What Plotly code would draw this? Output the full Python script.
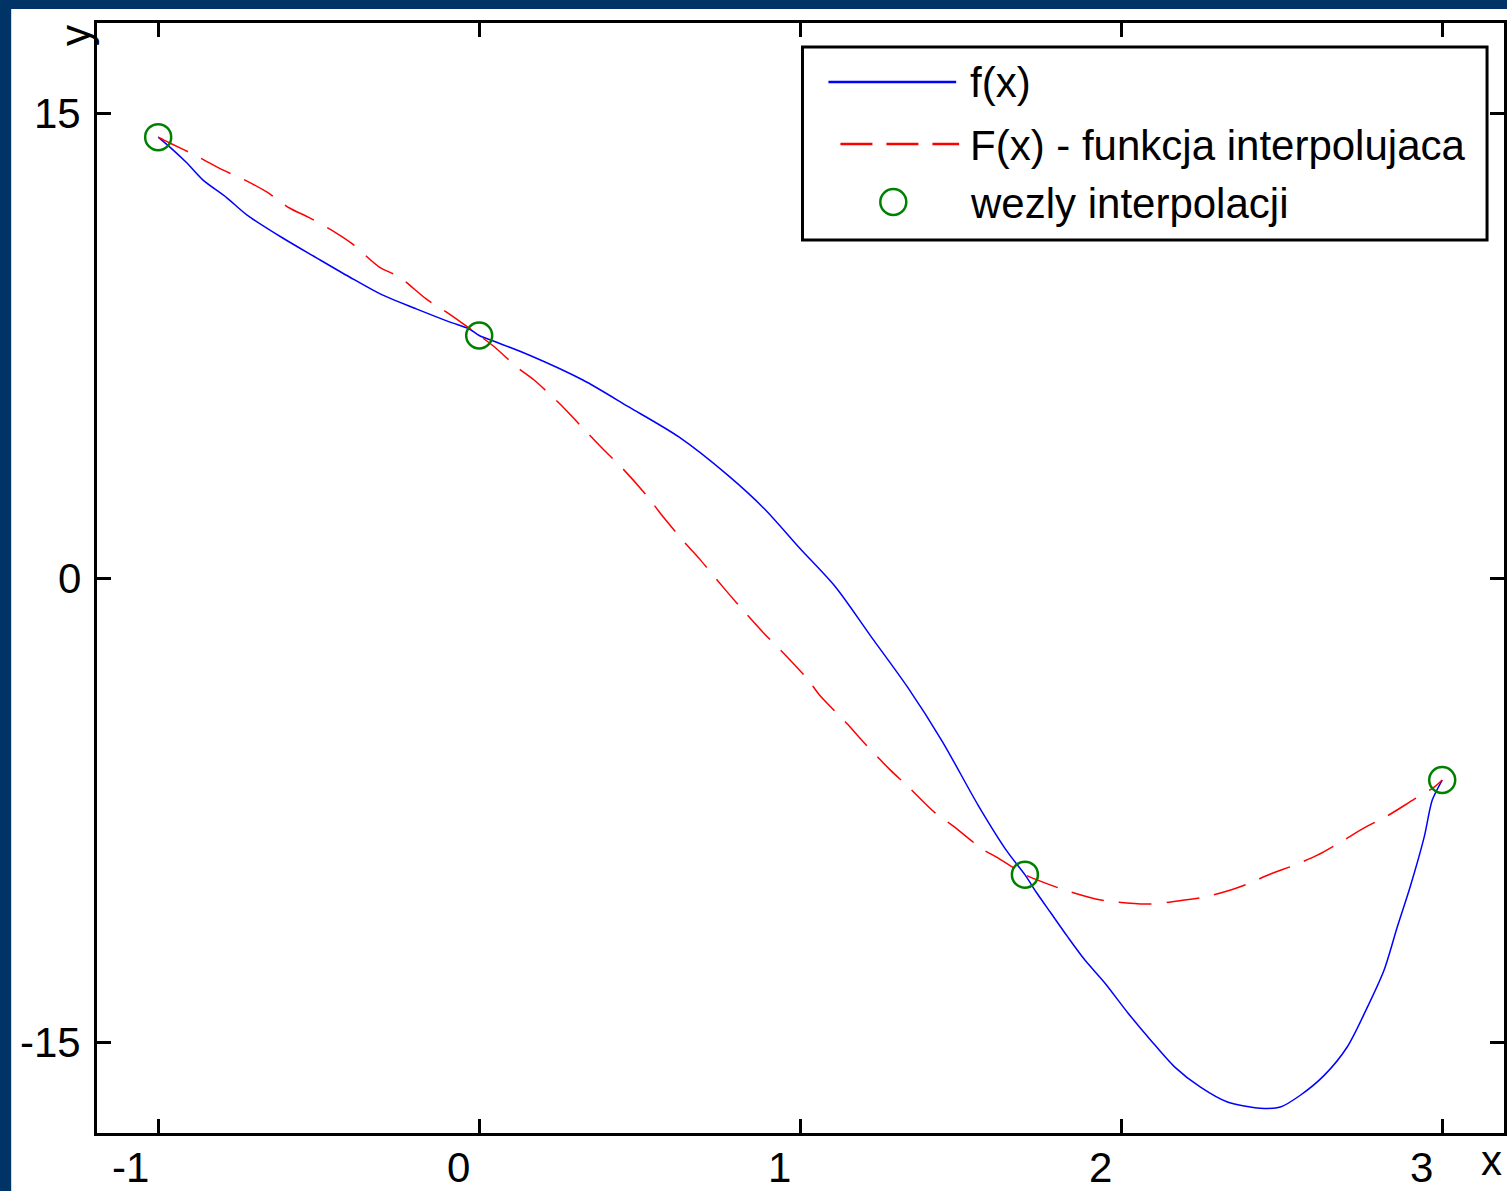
import plotly.graph_objects as go

# ---- data ----
f_x = [-1.0, -0.954, -0.911, -0.861, -0.786, -0.724, -0.612, -0.507, -0.404, -0.302,
       -0.196, -0.093, -0.031, 0.0, 0.044, 0.155, 0.323, 0.466, 0.622, 0.777,
       0.889, 0.998, 1.110, 1.222, 1.334, 1.442, 1.554, 1.644, 1.70, 1.735,
       1.781, 1.834, 1.887, 1.949, 2.021, 2.092, 2.167, 2.247, 2.331, 2.434,
       2.496, 2.558, 2.633, 2.704, 2.767, 2.819, 2.860, 2.900, 2.944, 2.969, 3.0]
f_y = [14.25, 13.84, 13.42, 12.87, 12.29, 11.74, 10.99, 10.35, 9.73, 9.15,
       8.70, 8.28, 8.05, 7.84, 7.66, 7.21, 6.40, 5.53, 4.56, 3.30,
       2.23, 0.97, -0.29, -1.91, -3.52, -5.27, -7.34, -8.83, -9.59, -10.15,
       -10.83, -11.61, -12.35, -13.09, -14.06, -14.94, -15.81, -16.46, -16.94, -17.14,
       -17.10, -16.72, -16.07, -15.16, -13.87, -12.67, -11.28, -9.99, -8.37, -7.18, -6.53]

F_x = [-1.0, -0.964, -0.880, -0.799, -0.737, -0.662, -0.591, -0.528, -0.445, -0.395,
       -0.311, -0.249, -0.165, -0.103, -0.053, 0.0, 0.044, 0.121, 0.171, 0.261,
       0.311, 0.395, 0.445, 0.528, 0.566, 0.644, 0.687, 0.765, 0.805, 0.889,
       0.939, 1.023, 1.060, 1.150, 1.194, 1.281, 1.334, 1.421, 1.477, 1.567,
       1.616, 1.666, 1.70, 1.756, 1.834, 1.937, 2.083, 2.198, 2.260, 2.331,
       2.394, 2.465, 2.540, 2.611, 2.683, 2.757, 2.829, 2.913, 2.975, 3.0]
F_y = [14.25, 14.06, 13.64, 13.19, 12.90, 12.48, 11.96, 11.64, 11.15, 10.80,
       10.05, 9.73, 9.02, 8.60, 8.24, 7.84, 7.50, 6.79, 6.40, 5.53,
       4.98, 4.07, 3.56, 2.59, 2.07, 1.10, 0.61, -0.36, -0.84, -1.81,
       -2.33, -3.27, -3.78, -4.75, -5.27, -6.21, -6.72, -7.60, -8.02, -8.76,
       -9.05, -9.38, -9.59, -9.83, -10.12, -10.41, -10.54, -10.41, -10.31, -10.12,
       -9.89, -9.57, -9.28, -8.96, -8.54, -8.08, -7.69, -7.15, -6.76, -6.53]

node_x = [-1.0, 0.0, 1.70, 3.0]
node_y = [14.25, 7.84, -9.59, -6.53]

x_ticks = [-1, 0, 1, 2, 3]
x_tick_labels = ["-1", "0", "1", "2", "3"]
y_ticks = [-15, 0, 15]
y_tick_labels = ["-15", "0", "15"]

legend_names = ["f(x)", "F(x) - funkcja interpolujaca", "wezly interpolacji"]

# ---- styling ----
FONT = "Liberation Sans, Arial, sans-serif"
FS = 42
NAVY = "#003366"
BLUE = "#0000FF"
RED = "#FF0000"
GREEN = "#008000"

W, H = 1507, 1191
ML, MR, MT, MB = 97, 0, 23, 58
PW, PH = W - ML - MR, H - MT - MB


def px(xp):
    return (xp - ML) / PW


def py(yp):
    return (H - MB - yp) / PH


fig = go.Figure()
fig.add_trace(go.Scatter(x=f_x, y=f_y, mode="lines", name=legend_names[0],
                         line=dict(color=BLUE, width=1.5, shape="spline", smoothing=0.8),
                         showlegend=False))
fig.add_trace(go.Scatter(x=F_x, y=F_y, mode="lines", name=legend_names[1],
                         line=dict(color=RED, width=1.5, dash="33px,15px",
                                   shape="spline", smoothing=0.8),
                         showlegend=False))
fig.add_trace(go.Scatter(x=node_x, y=node_y, mode="markers", name=legend_names[2],
                         marker=dict(symbol="circle-open", size=26, color=GREEN,
                                     line=dict(width=2.5, color=GREEN)),
                         showlegend=False))

shapes = [
    # white figure area inside the navy frame
    dict(type="rect", xref="paper", yref="paper", x0=px(11), x1=1.2, y0=-0.3, y1=py(9),
         fillcolor="white", line=dict(width=0), layer="below"),
    # legend box
    dict(type="rect", xref="paper", yref="paper", x0=px(804), x1=px(1490), y0=py(240), y1=py(47),
         fillcolor="white", line=dict(color="black", width=3)),
    dict(type="line", xref="paper", yref="paper", x0=px(830), x1=px(958), y0=py(82), y1=py(82),
         line=dict(color=BLUE, width=2.5)),
    dict(type="line", xref="paper", yref="paper", x0=px(842), x1=px(961), y0=py(144), y1=py(144),
         line=dict(color=RED, width=2.5, dash="32px,14px")),
    dict(type="circle", xref="paper", yref="paper", xsizemode="pixel", ysizemode="pixel",
         xanchor=px(895), yanchor=py(202), x0=-13, x1=13, y0=-13, y1=13,
         line=dict(color=GREEN, width=2.5)),
]

ann = []
for txt, yp in zip(legend_names, [82, 145, 203]):
    ann.append(dict(text=txt, xref="paper", yref="paper", x=px(970), y=py(yp),
                    xanchor="left", yanchor="middle", showarrow=False,
                    font=dict(family=FONT, size=FS, color="black")))
for v, t in zip(x_ticks, x_tick_labels):
    ann.append(dict(text=t, xref="x", yref="paper", x=v, y=0, xanchor="right",
                    yanchor="middle", xshift=-7, yshift=-34, showarrow=False,
                    font=dict(family=FONT, size=FS, color="black")))
for v, t in zip(y_ticks, y_tick_labels):
    ann.append(dict(text=t, xref="paper", yref="y", x=0, y=v, xanchor="right",
                    yanchor="middle", xshift=-14, showarrow=False,
                    font=dict(family=FONT, size=FS, color="black")))
ann.append(dict(text="y", xref="paper", yref="paper", x=px(76), y=py(36), textangle=-90,
                xanchor="center", yanchor="middle", showarrow=False,
                font=dict(family=FONT, size=FS, color="black")))
ann.append(dict(text="x", xref="paper", yref="paper", x=px(1494), y=py(1160),
                xanchor="center", yanchor="middle", showarrow=False,
                font=dict(family=FONT, size=FS, color="black")))

axis_common = dict(showgrid=False, zeroline=False, showline=True, linecolor="black",
                   linewidth=3, mirror="ticks", ticks="inside", ticklen=14, tickwidth=3,
                   tickcolor="black", showticklabels=False)

fig.update_layout(
    width=W, height=H,
    margin=dict(l=ML, r=MR, t=MT, b=MB, pad=0),
    paper_bgcolor=NAVY, plot_bgcolor="white",
    showlegend=False,
    xaxis=dict(range=[-1.1906, 3.1925], tickmode="array", tickvals=x_ticks, **axis_common),
    yaxis=dict(range=[-17.94, 17.94], tickmode="array", tickvals=y_ticks, **axis_common),
    shapes=shapes, annotations=ann,
)

fig.write_html(
    "out.html",
    config={"displayModeBar": False},
    post_script="document.body.style.margin='0';document.body.style.overflow='hidden';"
                "document.body.style.background='" + NAVY + "';",
)
